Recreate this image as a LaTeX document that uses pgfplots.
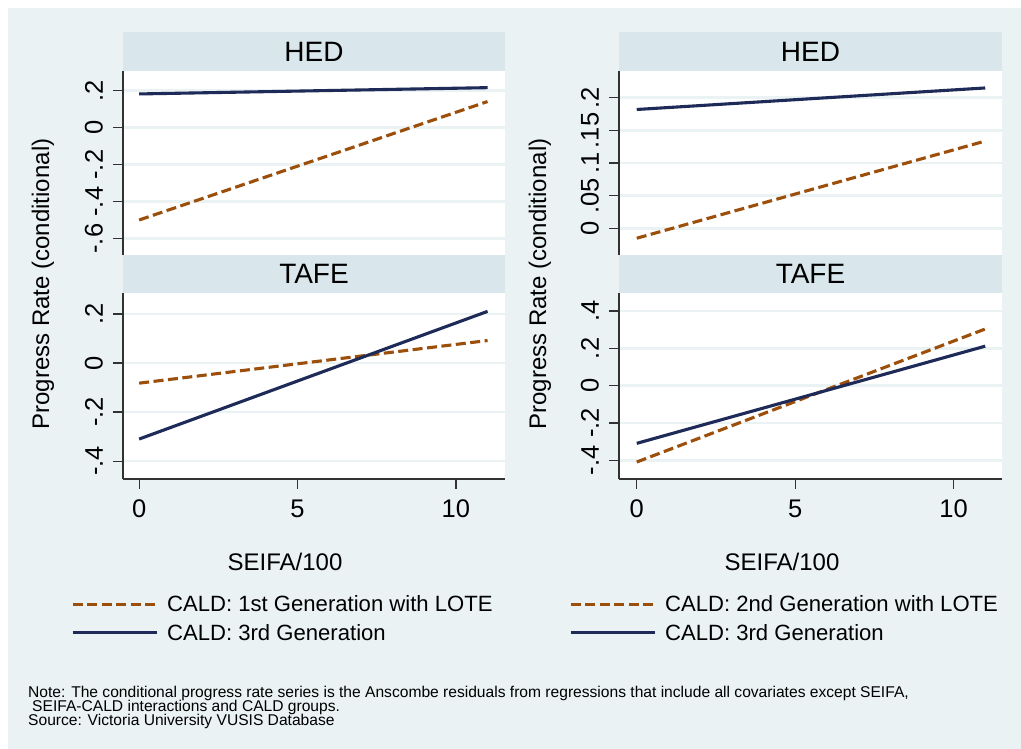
\documentclass[border=0pt]{standalone}
\usepackage{pgfplots}
\pgfplotsset{compat=1.18}
\usepackage{fontspec}
\setmainfont{Liberation Sans}
\definecolor{bgc}{RGB}{234,242,243}
\definecolor{stripc}{RGB}{217,230,235}
\definecolor{navyc}{RGB}{30,42,87}
\definecolor{brownc}{RGB}{156,79,11}
\definecolor{axc}{RGB}{50,50,50}
\pgfplotsset{
  panel/.style={
    scale only axis,
    anchor=south west,
    axis background/.style={fill=white},
    axis y line*=left,
    axis line style={axc, line width=1.2pt},
    every tick/.style={axc, line width=1.2pt},
    major tick length=10pt,
    tick align=outside,
    ymajorgrids,
    major grid style={bgc, line width=2.6pt},
    yticklabel style={rotate=90, anchor=south, font=\fontsize{25.5}{29}\selectfont, inner sep=0pt},
    yticklabel shift=10pt,
    xticklabel style={font=\fontsize{25.5}{29}\selectfont, inner sep=0pt},
    xticklabel shift=11pt,
    xmin=-0.51, xmax=11.55,
    xtick={0,5,10}, xticklabels={0,5,10},
    clip=false,
  },
  toppanel/.style={panel, axis x line=none, height=184pt},
  botpanel/.style={panel, axis x line*=bottom, height=186pt},
  dashs/.style={brownc, line width=3.1pt, dash pattern=on 10pt off 4.5pt},
  solids/.style={navyc, line width=3.1pt},
  mylegend/.style={
    legend cell align=left,
    legend image code/.code={\draw[##1] (0pt,0pt) -- (84pt,0pt);},
    legend style={draw=none, fill=none, inner sep=0pt, outer sep=0pt,
      row sep=11pt, column sep=9pt,
      font=\fontsize{22.1}{26}\selectfont,
      nodes={inner sep=0pt, outer sep=0pt}},
  },
}
\begin{document}
\begin{tikzpicture}[x=1pt,y=1pt]
\fill[white] (0,0) rectangle (1021,749);
\fill[bgc] (8,0) rectangle (1021,741);

% Top-left: HED
\begin{axis}[toppanel, at={(123pt,494pt)}, width=382pt,
  ymin=-0.688, ymax=0.306,
  ytick={-0.6,-0.4,-0.2,0,0.2}, yticklabels={-.6,-.4,-.2,0,.2}]
\addplot[dashs] coordinates {(0,-0.499) (11,0.141)};
\addplot[solids] coordinates {(0,0.182) (11,0.216)};
\end{axis}

% Top-right: HED
\begin{axis}[toppanel, at={(619pt,494pt)}, width=383pt,
  xmin=-0.56, xmax=11.53,
  ymin=-0.041, ymax=0.241,
  ytick={0,0.05,0.1,0.15,0.2}, yticklabels={0,.05,.1,.15,.2}]
\addplot[dashs] coordinates {(0,-0.0153) (11,0.1336)};
\addplot[solids] coordinates {(0,0.182) (11,0.215)};
\end{axis}

% Bottom-left: TAFE
\begin{axis}[botpanel, mylegend, at={(123pt,270pt)}, width=382pt,
  ymin=-0.473, ymax=0.286,
  ytick={-0.4,-0.2,0,0.2}, yticklabels={-.4,-.2,0,.2},
  legend style={at={(axis description cs:-0.136,-0.75)}, anchor=west}]
\addplot[dashs] coordinates {(0,-0.082) (11,0.092)};
\addlegendentry{CALD: 1st Generation with LOTE}
\addplot[solids] coordinates {(0,-0.310) (11,0.211)};
\addlegendentry{CALD: 3rd Generation}
\end{axis}

% Bottom-right: TAFE
\begin{axis}[botpanel, mylegend, at={(619pt,270pt)}, width=383pt,
  xmin=-0.56, xmax=11.53,
  ymin=-0.5, ymax=0.497,
  ytick={-0.4,-0.2,0,0.2,0.4}, yticklabels={-.4,-.2,0,.2,.4},
  legend style={at={(axis description cs:-0.1305,-0.75)}, anchor=west}]
\addplot[dashs] coordinates {(0,-0.409) (11,0.304)};
\addlegendentry{CALD: 2nd Generation with LOTE}
\addplot[solids] coordinates {(0,-0.309) (11,0.212)};
\addlegendentry{CALD: 3rd Generation}
\end{axis}

% strips
\fill[stripc] (123,678) rectangle (505,717);
\fill[stripc] (619,678) rectangle (1002,717);
\fill[stripc] (123,456) rectangle (505,494);
\fill[stripc] (619,456) rectangle (1002,494);
\node[font=\fontsize{28}{32}\selectfont] at (314,697.5) {HED};
\node[font=\fontsize{28}{32}\selectfont] at (810.5,697.5) {HED};
\node[font=\fontsize{28}{32}\selectfont] at (314,475) {TAFE};
\node[font=\fontsize{28}{32}\selectfont] at (810.5,475) {TAFE};

% axis titles
\node[rotate=90, font=\fontsize{24}{28}\selectfont] at (43,465) {Progress Rate (conditional)};
\node[rotate=90, font=\fontsize{24}{28}\selectfont] at (540,465) {Progress Rate (conditional)};
\node[font=\fontsize{24}{28}\selectfont] at (285,187) {SEIFA/100};
\node[font=\fontsize{24}{28}\selectfont] at (782,187) {SEIFA/100};

% note
\node[anchor=base west, inner sep=0pt, font=\fontsize{15.6}{18}\selectfont] at (28,51) {Note: The conditional progress rate series is the Anscombe residuals from regressions that include all covariates except SEIFA,};
\node[anchor=base west, inner sep=0pt, font=\fontsize{15.6}{18}\selectfont] at (32,37) {SEIFA-CALD interactions and CALD groups.};
\node[anchor=base west, inner sep=0pt, font=\fontsize{15.6}{18}\selectfont] at (28,23) {Source: Victoria University VUSIS Database};
\end{tikzpicture}
\end{document}
